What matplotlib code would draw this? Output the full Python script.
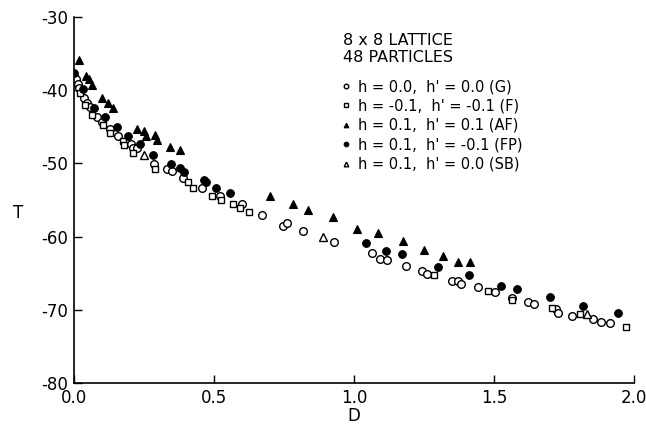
import matplotlib.pyplot as plt

# --- values ---
g_D = [0.001, 0.007, 0.015, 0.019, 0.037, 0.045, 0.057, 0.081, 0.099, 0.127, 0.158,
       0.204, 0.212, 0.226, 0.286, 0.333, 0.351, 0.390, 0.458, 0.521, 0.601, 0.670,
       0.748, 0.760, 0.817, 0.930, 1.063, 1.092, 1.119, 1.186, 1.242, 1.260, 1.349,
       1.371, 1.382, 1.442, 1.502, 1.563, 1.620, 1.643, 1.720, 1.728, 1.778, 1.853,
       1.882, 1.914]
g_T = [-38.2, -38.5, -39.1, -39.7, -41.1, -41.7, -42.3, -43.7, -44.3, -45.3, -46.3,
       -47.4, -47.9, -47.9, -50.1, -50.8, -51.1, -52.0, -53.4, -54.4, -55.5, -57.1,
       -58.5, -58.2, -59.2, -60.8, -62.3, -63.0, -63.2, -64.0, -64.7, -65.1, -66.1,
       -66.0, -66.5, -66.9, -67.5, -68.4, -68.9, -69.2, -69.9, -70.4, -70.8, -71.3,
       -71.7, -71.8]

f_D = [0.021, 0.039, 0.063, 0.105, 0.129, 0.176, 0.180, 0.212, 0.289, 0.408, 0.426,
       0.494, 0.524, 0.567, 0.593, 0.626, 1.285, 1.480, 1.563, 1.706, 1.807, 1.971]
f_T = [-40.4, -42.0, -43.4, -44.8, -45.9, -47.0, -47.5, -48.6, -50.8, -52.6, -53.3,
       -54.4, -55.0, -55.5, -56.1, -56.7, -65.3, -67.4, -68.6, -69.7, -70.6, -72.4]

af_D = [0.018, 0.041, 0.054, 0.065, 0.099, 0.120, 0.140, 0.225, 0.249, 0.257, 0.289,
        0.295, 0.342, 0.379, 0.700, 0.781, 0.835, 0.926, 1.010, 1.085, 1.174, 1.251,
        1.317, 1.373, 1.415]
af_T = [-35.9, -38.0, -38.5, -39.3, -41.0, -41.7, -42.5, -45.3, -45.6, -46.2, -46.1,
        -46.8, -47.8, -48.2, -54.5, -55.6, -56.4, -57.3, -59.0, -59.5, -60.6, -61.8,
        -62.6, -63.5, -63.5]

fp_D = [0.000, 0.032, 0.071, 0.111, 0.153, 0.193, 0.236, 0.281, 0.346, 0.379, 0.391,
        0.464, 0.470, 0.506, 0.557, 1.042, 1.115, 1.171, 1.300, 1.412, 1.526, 1.581,
        1.700, 1.819, 1.942]
fp_T = [-37.7, -39.9, -42.5, -43.7, -45.0, -46.2, -47.4, -48.8, -50.1, -50.6, -51.2,
        -52.3, -52.5, -53.4, -54.1, -60.9, -62.0, -62.4, -64.1, -65.3, -66.7, -67.2,
        -68.3, -69.5, -70.5]

sb_D = [0.251, 0.890, 1.831]
sb_T = [-48.8, -60.0, -70.6]

labels = ["h = 0.0,  h' = 0.0 (G)",
          "h = -0.1,  h' = -0.1 (F)",
          "h = 0.1,  h' = 0.1 (AF)",
          "h = 0.1,  h' = -0.1 (FP)",
          "h = 0.1,  h' = 0.0 (SB)"]
header = ["8 x 8 LATTICE", "48 PARTICLES"]

plt.rcParams['font.family'] = 'DejaVu Sans'
plt.rcParams['axes.unicode_minus'] = False

fig = plt.figure(figsize=(6.46, 4.29), dpi=100)
ax = fig.add_axes([0.1146, 0.1072, 0.8668, 0.8532])

ms = 5.5
ax.plot(g_D, g_T, 'o', ms=ms, mfc='white', mec='black', mew=1.0, label=labels[0])
ax.plot(f_D, f_T, 's', ms=ms - 0.5, mfc='white', mec='black', mew=1.0, label=labels[1])
ax.plot(af_D, af_T, '^', ms=ms, mfc='black', mec='black', mew=0.8, label=labels[2])
ax.plot(fp_D, fp_T, 'o', ms=ms, mfc='black', mec='black', mew=0.8, label=labels[3])
ax.plot(sb_D, sb_T, '^', ms=ms, mfc='white', mec='black', mew=1.0, label=labels[4])

ax.set_xlim(0, 2.0)
ax.set_ylim(-80, -30)
ax.set_xticks([0.0, 0.5, 1.0, 1.5, 2.0])
ax.set_xticklabels(["0.0", "0.5", "1.0", "1.5", "2.0"])
ax.set_yticks([-80, -70, -60, -50, -40, -30])
ax.tick_params(direction='in', length=6, width=1, labelsize=12, pad=4)
ax.spines['top'].set_visible(False)
ax.spines['right'].set_visible(False)
for s in ['left', 'bottom']:
    ax.spines[s].set_linewidth(1.2)

ax.set_xlabel("D", fontsize=12, labelpad=0)
ax.set_ylabel("T", fontsize=12, rotation=0, va='center', ha='center')
ax.yaxis.set_label_coords(-0.1, 0.464)

# header lines above the legend
ax.text(0.480, 0.937, header[0], transform=ax.transAxes, fontsize=11.5, va='center')
ax.text(0.480, 0.888, header[1], transform=ax.transAxes, fontsize=11.5, va='center')

ax.legend(loc='upper left', bbox_to_anchor=(0.478, 0.83), frameon=False,
          fontsize=10.5, markerscale=0.6, handlelength=0.6, handletextpad=0.5,
          labelspacing=0.3, borderpad=0, borderaxespad=0)

fig.savefig("out.png", dpi=100)
